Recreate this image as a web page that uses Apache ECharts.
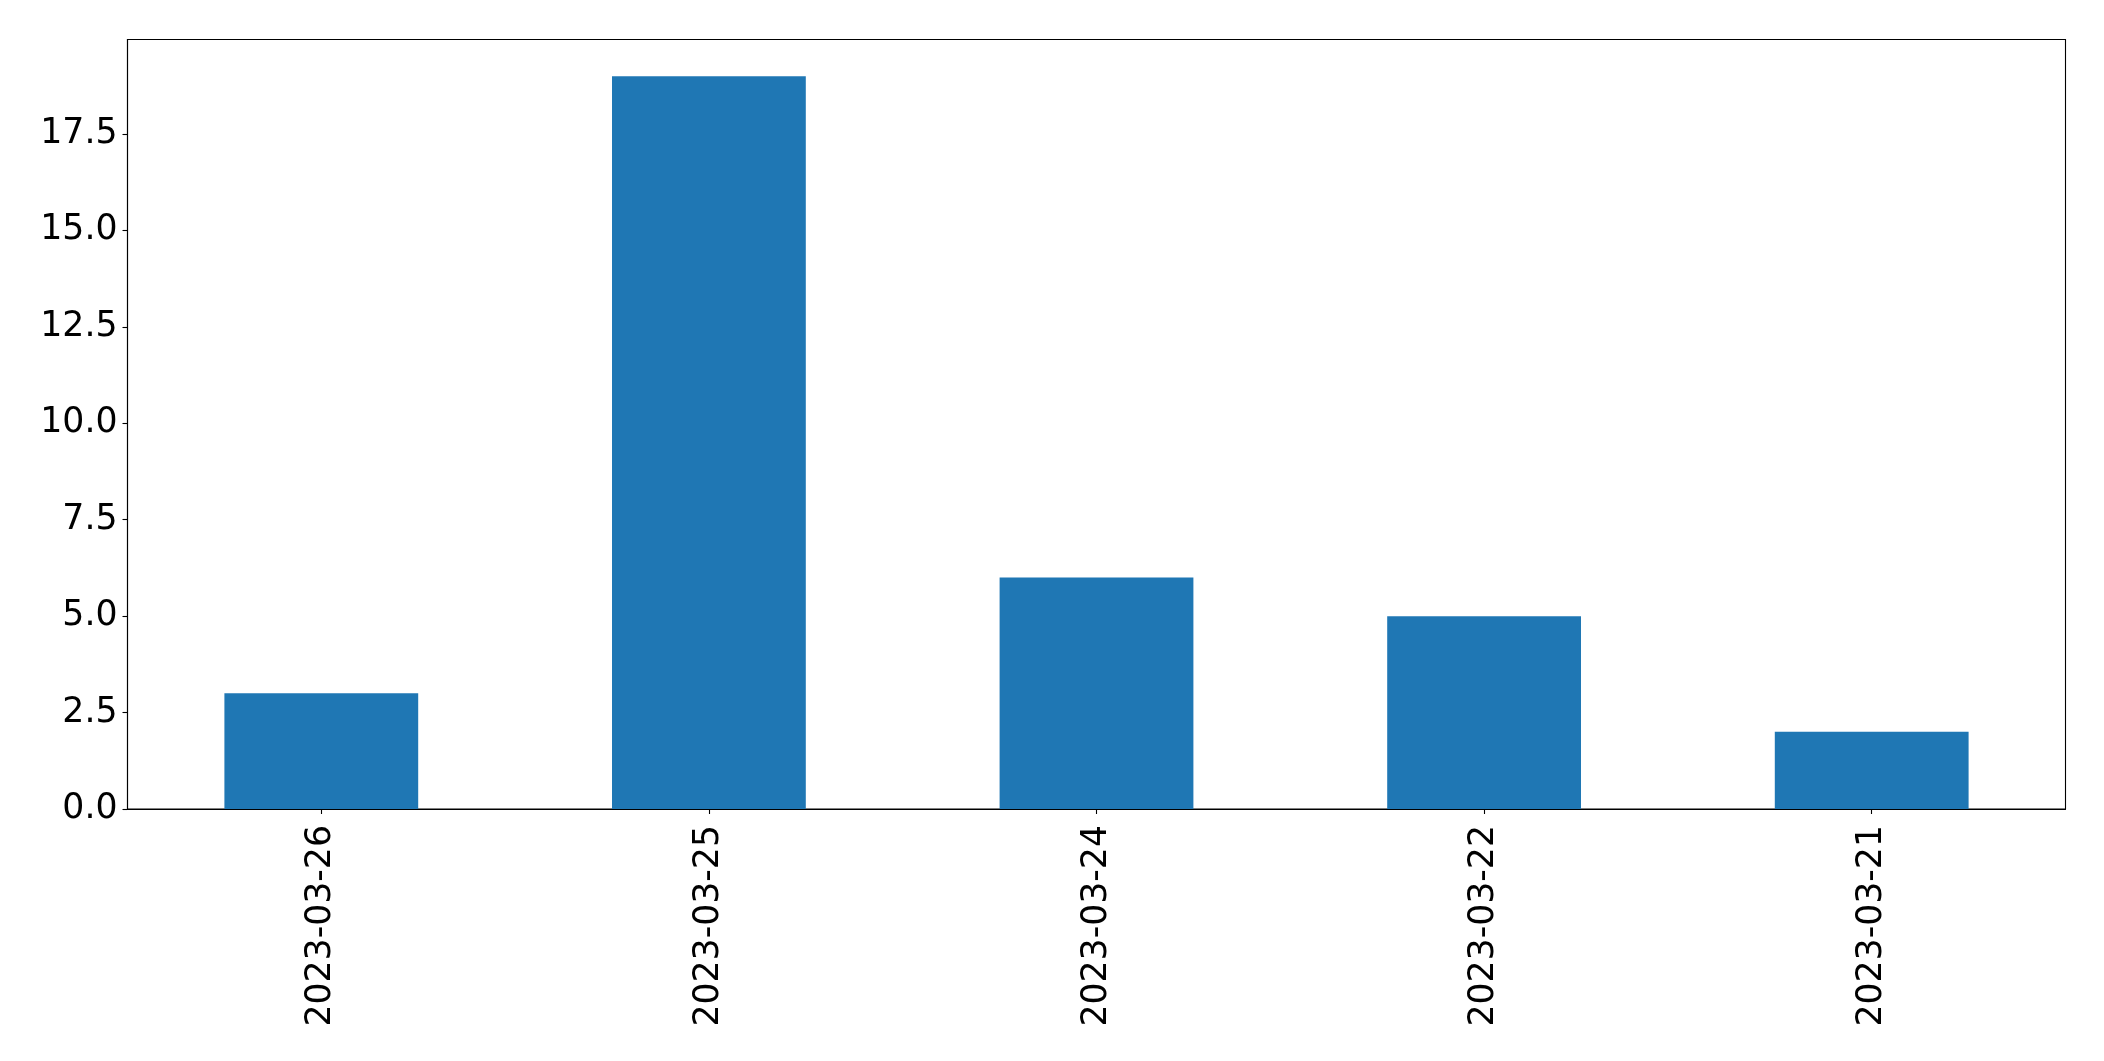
<!DOCTYPE html>
<html><head><meta charset="utf-8">
<script src="https://cdn.jsdelivr.net/npm/echarts@6/dist/echarts.min.js"></script>
<style>html,body{margin:0;padding:0;background:#fff}#c{width:2104px;height:1061px}</style>
</head><body><div id="c"></div>
<script>
const categories = ['2023-03-26', '2023-03-25', '2023-03-24', '2023-03-22', '2023-03-21'];
const counts = [3, 19, 6, 5, 2];
const yTicks = [0, 2.5, 5, 7.5, 10, 12.5, 15, 17.5];

const chart = echarts.init(document.getElementById('c'), null, {renderer: 'canvas'});
const font = 'DejaVu Sans';
chart.setOption({
  animation: false,
  backgroundColor: '#fff',
  grid: {left: 127.5, right: 38.5, top: 39.5, bottom: 252, show: true, borderColor: '#000', borderWidth: 1.1, containLabel: false},
  xAxis: {
    type: 'category', data: categories,
    axisLine: {show: true, lineStyle: {color: '#000', width: 1.1}},
    axisTick: {show: true, alignWithLabel: true, length: 5, lineStyle: {color: '#000', width: 1.1}},
    axisLabel: {rotate: 90, color: '#000', fontFamily: font, fontSize: 34.7, margin: 16, interval: 0, padding: [5, 0, 0, 0]},
    splitLine: {show: false}
  },
  yAxis: {
    type: 'value', min: 0, max: 19.95, interval: 2.5,
    axisLine: {show: true, lineStyle: {color: '#000', width: 1.1}},
    axisTick: {show: true, length: 5, customValues: yTicks, lineStyle: {color: '#000', width: 1.1}},
    axisLabel: {color: '#000', fontFamily: font, fontSize: 34.7, margin: 10, customValues: yTicks, padding: [5, 0, 0, 0],
      formatter: v => v.toFixed(1)},
    splitLine: {show: false}
  },
  series: [{
    type: 'bar', data: counts, barWidth: '50%',
    itemStyle: {color: '#1f77b4'}
  }]
});
</script></body></html>
